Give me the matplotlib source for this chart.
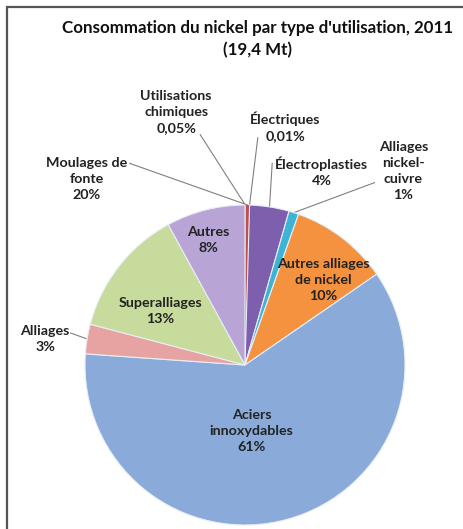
import matplotlib
matplotlib.use('Agg')
import matplotlib.pyplot as plt
import numpy as np
from matplotlib.patches import Rectangle

plt.rcParams['font.family'] = ['Lato', 'DejaVu Sans']

# Data (clockwise from 12 o'clock)
categories = ['Utilisations\nchimiques', 'Moulages de\nfonte', 'Électriques', 'Électroplasties',
              'Alliages\nnickel-\ncuivre', 'Autres alliages\nde nickel', 'Aciers\ninnoxydables',
              'Alliages', 'Superalliages', 'Autres']
values = [0.05, 0.4, 0.01, 4, 1, 10, 61, 3, 13, 8]
pct_labels = ['0,05%', '20%', '0,01%', '4%', '1%', '10%', '61%', '3%', '13%', '8%']
colors = ['#C0504D', '#C0504D', '#8064A2', '#7E5FAE', '#3DB4D4', '#F5923F',
          '#8AABDA', '#E6A3A2', '#C6DB9C', '#B8A5D6']

# label layout: (x, y, leader line start or None)
layout = {
    0: (-0.43, 1.58, (-0.28, 1.44)),
    1: (-0.99, 1.16, (-0.72, 1.26)),
    2: (0.25, 1.49, (0.08, 1.42)),
    3: (0.48, 1.21, (0.17, 1.26)),
    4: (0.99, 1.21, (0.81, 1.14)),
    5: (0.49, 0.53, None),
    6: (0.04, -0.41, None),
    7: (-1.25, 0.16, (-1.09, 0.20)),
    8: (-0.53, 0.34, None),
    9: (-0.23, 0.78, None),
}

fig = plt.figure(figsize=(4.64, 5.29), dpi=100)
ax = fig.add_axes([85 / 464, 4 / 529, 320 / 464, 320 / 529])

wedges, _ = ax.pie(values, colors=colors, startangle=90, counterclock=False, radius=1,
                   wedgeprops=dict(edgecolor='#E8EEF6', linewidth=0.8))
ax.set_xlim(-1, 1)
ax.set_ylim(-1, 1)
ax.set_aspect('equal')
ax.axis('off')

# tiny slices: no edge, hide the invisible ones
for w in wedges[:3]:
    w.set_edgecolor('none')
wedges[2].set_visible(False)
wedges[0].set_visible(False)

for i, w in enumerate(wedges):
    x, y, start = layout[i]
    ax.text(x, y, categories[i] + '\n' + pct_labels[i], ha='center', va='center',
            fontsize=10.3, fontweight='bold', color='#222222', linespacing=1.4,
            clip_on=False)
    if start is not None:
        mid = np.deg2rad((w.theta1 + w.theta2) / 2)
        ex, ey = np.cos(mid), np.sin(mid)
        ax.plot([start[0], ex], [start[1], ey], color='#808080', lw=0.8,
                clip_on=False, zorder=0.5)

fig.text(0.556, 0.926, "Consommation du nickel par type d'utilisation, 2011\n(19,4 Mt)",
         ha='center', va='center', fontsize=12.2, fontweight='bold', color='#111111',
         linespacing=1.45)

fig.patches.append(Rectangle((7 / 464, -0.1), 1.1, 1 - 7 / 529 + 0.1,
                             transform=fig.transFigure, fill=False,
                             edgecolor='#555555', linewidth=1.6))

fig.savefig('out.png', dpi=100, facecolor='white')
